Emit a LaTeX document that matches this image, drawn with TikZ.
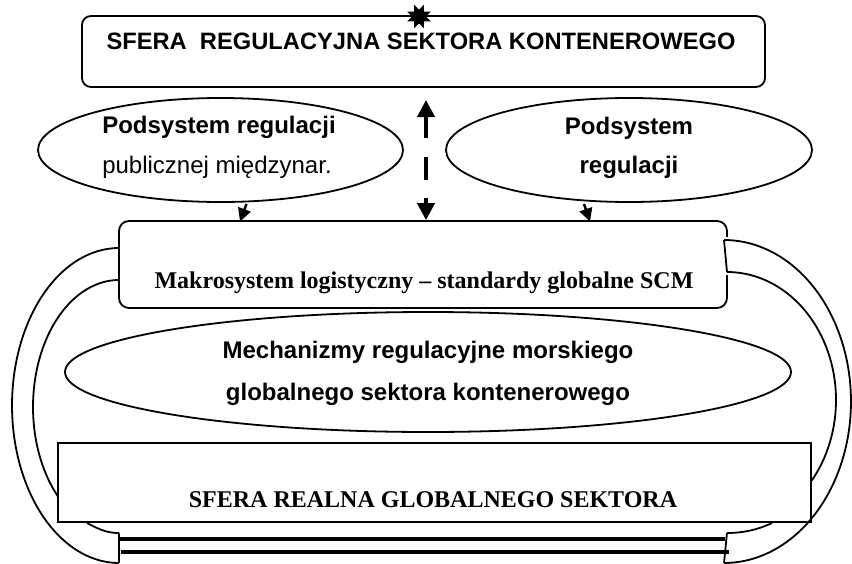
\documentclass[tikz,border=0pt]{standalone}
\usepackage{fontspec}
\setmainfont{Liberation Serif}
\setsansfont{Liberation Sans}
\usetikzlibrary{shapes.geometric,arrows.meta}
\begin{document}
\begin{tikzpicture}[x=1pt,y=-1pt,line width=1.8pt,
  sanstxt/.style={font=\sffamily\fontsize{24}{28}\selectfont,inner sep=0pt,anchor=base},
  seriftxt/.style={font=\rmfamily\bfseries\fontsize{24}{28}\selectfont,inner sep=0pt,anchor=base},
  rbox/.style={draw,rectangle,inner sep=0pt},
  oval/.style={draw,ellipse,inner sep=0pt},
  bigtip/.style={line width=4pt,-{Triangle[width=17pt,length=17pt]}},
  smalltip/.style={line width=2.5pt,-{Triangle[width=13pt,length=13pt]}},
  thickline/.style={line width=4pt}]
\useasboundingbox (0,0) rectangle (852,563);
\fill[white] (0,0) rectangle (852,563);

% shapes
\node[rbox,rounded corners=9pt,minimum width=683pt,minimum height=71pt] (top) at (423.5,51.5) {};
\node[oval,minimum width=365pt,minimum height=104pt] (elL) at (220.5,150) {};
\node[oval,minimum width=366pt,minimum height=104pt] (elR) at (629,150) {};
\node[rbox,rounded corners=10pt,minimum width=608pt,minimum height=87pt] (makro) at (423,264.5) {};
\node[oval,minimum width=726pt,minimum height=120pt] (mech) at (428,372) {};
\node[rbox,minimum width=753pt,minimum height=79pt] (realna) at (434.5,482.5) {};
\node[star,star points=8,star point ratio=0.55,fill=black,draw=none,minimum size=14pt,inner sep=0pt] (startop) at (419,16.5) {};

% texts
\node[sanstxt,font=\sffamily\bfseries\fontsize{23.7}{28}\selectfont] (ttop) at (421,49) {SFERA\ \ REGULACYJNA SEKTORA KONTENEROWEGO};
\node[sanstxt,font=\sffamily\bfseries\fontsize{24}{28}\selectfont] (tl1) at (219,133) {Podsystem regulacji};
\node[sanstxt] (tl2) at (217,173) {publicznej międzynar.};
\node[sanstxt,font=\sffamily\bfseries\fontsize{24}{28}\selectfont] (tr1) at (629,134) {Podsystem};
\node[sanstxt,font=\sffamily\bfseries\fontsize{24}{28}\selectfont] (tr2) at (629,173) {regulacji};
\node[seriftxt] (tmakro) at (424,288) {Makrosystem logistyczny – standardy globalne SCM};
\node[sanstxt,font=\sffamily\bfseries\fontsize{24}{28}\selectfont] (tm1) at (428,358) {Mechanizmy regulacyjne morskiego};
\node[sanstxt,font=\sffamily\bfseries\fontsize{24}{28}\selectfont] (tm2) at (428,400) {globalnego sektora kontenerowego};
\node[seriftxt] (treal) at (433,507) {SFERA REALNA GLOBALNEGO SEKTORA};

% central dashed double arrow
\coordinate (cupA) at (426,138);
\coordinate (cupB) at (426,100);
\coordinate (cdashA) at (426,157);
\coordinate (cdashB) at (426,180);
\coordinate (cdnA) at (426,198);
\draw[bigtip] (cupA) -- (cupB);
\draw[line width=4pt] (cdashA) -- (cdashB);
\draw[bigtip] (cdnA) -- (cdnA |- makro.north);

% small arrows from ellipses
\coordinate (slA) at (246.5,204);
\coordinate (slB) at (240,221.5);
\coordinate (srA) at (584,204);
\coordinate (srB) at (590,221.5);
\draw[smalltip] (slA) -- (slB);
\draw[smalltip] (srA) -- (srB);

% side arcs, left
\draw plot[domain=90:270,samples=80] ({119+107*cos(\x)},{405.5-157.5*sin(\x)});
\draw plot[domain=90:225,samples=70] ({119+86*cos(\x)},{407-127*sin(\x)});
% side arcs, right
\fill[white] (723.2,237) rectangle (731,275);
\coordinate (rjA) at (724,240);
\coordinate (rjB) at (727,272);
\draw (rjA) -- (rjB);
\draw plot[domain=90:-90,samples=80] ({724+127*cos(\x)},{401.5-161.5*sin(\x)});
\draw plot[domain=90:-39,samples=70] ({727+109*cos(\x)},{400-128*sin(\x)});

% bottom structure
\coordinate (blA) at (119,533);
\coordinate (blB) at (119,563);
\coordinate (brA) at (727,533);
\coordinate (brB) at (724,563);
\draw (blA) -- (blB);
\draw (brA) -- (brB);
\draw (87,523) .. controls (100,530) and (108,533) .. (blA);
\draw (772,523) .. controls (755,531) and (740,533) .. (brA);
\coordinate (tlA) at (120,539);
\coordinate (tlB) at (725,539);
\coordinate (tlC) at (121,552);
\coordinate (tlD) at (729,552);
\draw[thickline] (tlA) -- (tlB);
\draw[thickline] (tlC) -- (tlD);
\end{tikzpicture}
\end{document}
